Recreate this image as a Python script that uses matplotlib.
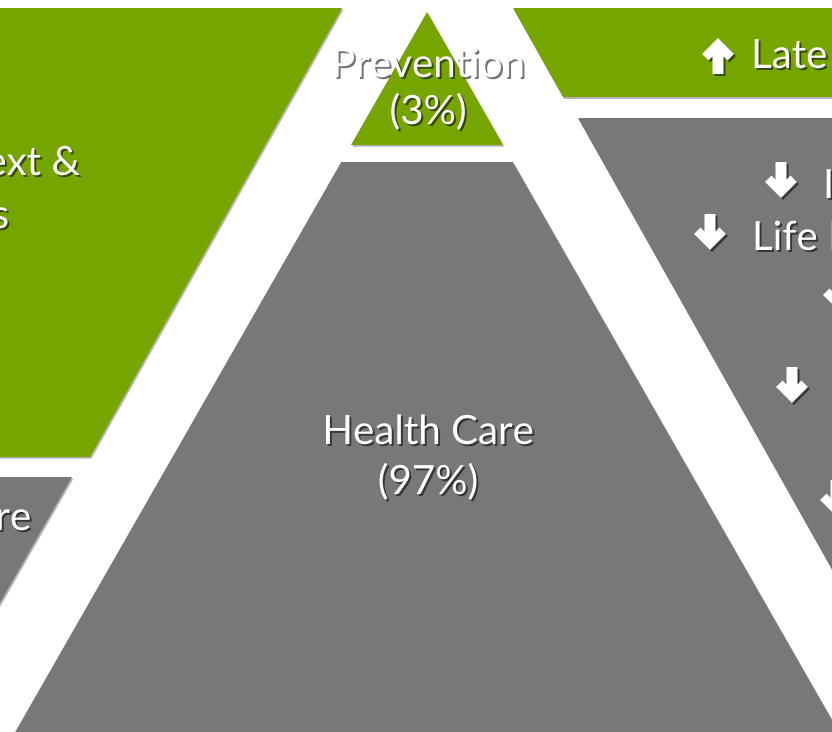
import matplotlib
matplotlib.use("Agg")
from matplotlib import pyplot as plt
from matplotlib.patches import Polygon
import matplotlib.patheffects as pe

# labels and shares
pyramid_labels = ["Prevention", "Health Care"]
pyramid_shares = [3, 97]
left_labels = ["Social Context &", "Behaviors", "Health Care"]
right_up = ["Late Diagnosis"]
right_down = ["Infant Mortality", "Life Expectancy"]

GREEN = "#76a500"
GRAY = "#787878"

W, H = 832, 732
fig = plt.figure(figsize=(W / 100, H / 100), dpi=100)
ax = fig.add_axes([0, 0, 1, 1])
ax.set_xlim(0, W)
ax.set_ylim(H, 0)
ax.axis("off")

shape_fx = [pe.SimplePatchShadow(offset=(1, -1.2), shadow_rgbFace="black", alpha=0.3), pe.Normal()]
text_fx = [pe.withSimplePatchShadow(offset=(1.4, -1.4), shadow_rgbFace="black", alpha=0.55)]
arrow_fx = [pe.SimplePatchShadow(offset=(1.4, -1.4), shadow_rgbFace="black", alpha=0.55), pe.Normal()]


def poly(pts, color, fx=shape_fx):
    ax.add_patch(Polygon(pts, closed=True, facecolor=color, edgecolor="none", path_effects=fx))


def arrow(x, top, up=False, w=32, h=36, a=6.5, s=5.5):
    # chevron headed block arrow, pointing down unless up=True
    pts = [(x - s, 0), (x + s, 0), (x + s, h - 2 * a - s), (x + w / 2 - a, h - w / 2 - a),
           (x + w / 2, h - w / 2), (x, h), (x - w / 2, h - w / 2), (x - w / 2 + a, h - w / 2 - a),
           (x - s, h - 2 * a - s)]
    if up:
        pts = [(px, top + h - py) for px, py in pts]
    else:
        pts = [(px, top + py) for px, py in pts]
    poly(pts, "white", arrow_fx)


# pyramid edges: centre 427, half width grows 0.572 px per px
cx, apex, k = 427, 12, 0.572


def hw(y):
    return k * (y - apex)


poly([(cx, apex), (cx + hw(145), 145), (cx - hw(145), 145)], GREEN)
poly([(cx - hw(162), 162), (cx + hw(162), 162), (cx + hw(760), 760), (cx - hw(760), 760)], GRAY)

# left column
poly([(-10, 8), (342, 8), (90, 457), (-10, 457)], GREEN)
poly([(-10, 477), (72, 477), (72 - k * 300, 777), (-10, 777)], GRAY)

# right column
poly([(513, 8), (900, 8), (900, 97), (563, 97)], GREEN)
poly([(578, 118), (900, 118), (900, 760), (578 + 0.563 * 642, 760)], GRAY)

font = dict(family=["Lato", "DejaVu Sans"], color="white", fontsize=29, path_effects=text_fx)

# pyramid labels
ax.text(cx + 1, 77, pyramid_labels[0], ha="center", va="baseline", **font)
ax.text(cx + 1, 124, "(%d%%)" % pyramid_shares[0], ha="center", va="baseline", **font)
ax.text(cx + 1, 444, pyramid_labels[1], ha="center", va="baseline", **font)
ax.text(cx + 1, 494, "(%d%%)" % pyramid_shares[1], ha="center", va="baseline", **font)

# left labels (cut by the frame)
ax.text(80, 175, left_labels[0], ha="right", va="baseline", **font)
ax.text(9, 228, left_labels[1], ha="right", va="baseline", **font)
ax.text(31, 530, left_labels[2], ha="right", va="baseline", **font)

# right labels
arrow(718, 38, up=True)
ax.text(751, 68, right_up[0], ha="left", va="baseline", **font)
arrow(781, 162)
ax.text(823, 198, right_down[0], ha="left", va="baseline", **font)
arrow(710, 214)
ax.text(752, 250, right_down[1], ha="left", va="baseline", **font)
arrow(839, 275)
arrow(792, 367)
arrow(836, 480)

fig.savefig("out.png", dpi=100, facecolor="white")
